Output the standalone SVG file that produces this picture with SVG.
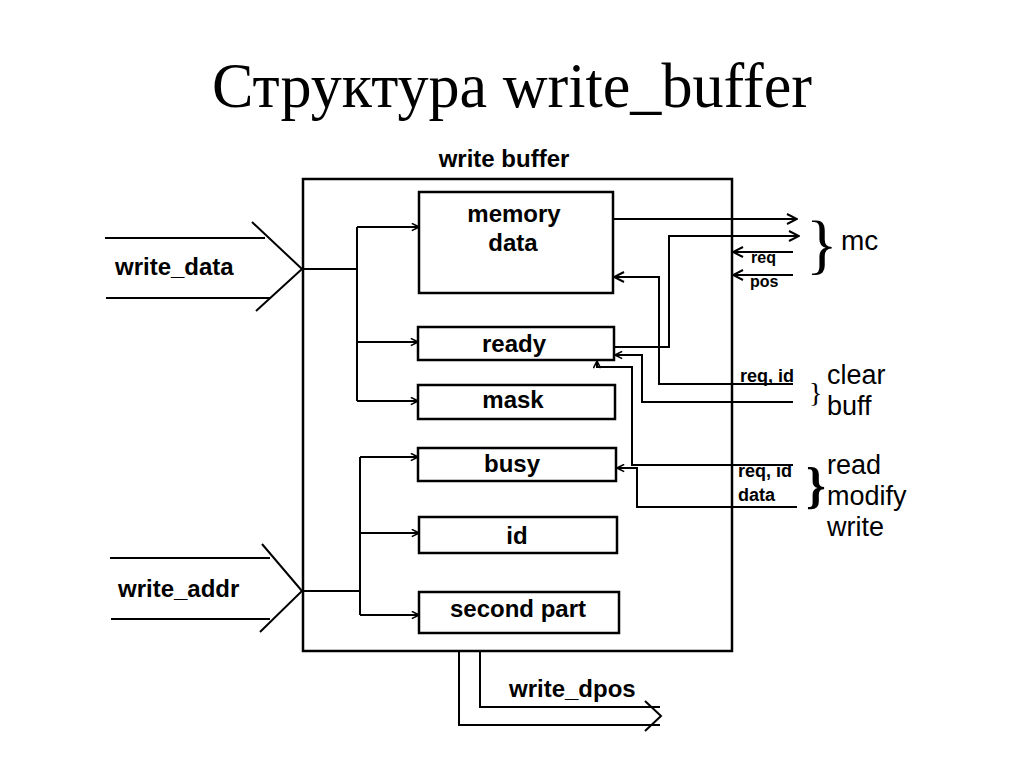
<svg xmlns="http://www.w3.org/2000/svg" width="1024" height="768" viewBox="0 0 1024 768">
<defs>
<marker id="ah" viewBox="0 0 12 12" refX="11" refY="6" markerWidth="12" markerHeight="12" markerUnits="userSpaceOnUse" orient="auto">
<path d="M1,1 L11,6 L1,11" fill="none" stroke="#000" stroke-width="2"/>
</marker>
<marker id="ahs" viewBox="0 0 10 10" refX="9" refY="5" markerWidth="9" markerHeight="9" markerUnits="userSpaceOnUse" orient="auto">
<path d="M1,1 L9,5 L1,9" fill="none" stroke="#000" stroke-width="1.8"/>
</marker>
</defs>
<style>
.box{fill:#fff;stroke:#000;stroke-width:2.5}
.ln{fill:none;stroke:#000;stroke-width:2}
.lb{font-family:"Liberation Sans",Arial,sans-serif;font-weight:bold;font-size:24px;fill:#000}
.sm{font-family:"Liberation Sans",Arial,sans-serif;font-weight:bold;font-size:18px;fill:#000}
.xs{font-family:"Liberation Sans",Arial,sans-serif;font-weight:bold;font-size:16px;fill:#000}
.rg{font-family:"Liberation Sans",Arial,sans-serif;font-size:27px;fill:#000}
</style>
<rect width="1024" height="768" fill="#fff"/>
<text x="212" y="107" textLength="600" lengthAdjust="spacingAndGlyphs" font-family="Liberation Serif,'Times New Roman',serif" font-size="64" fill="#000">Структура write_buffer</text>
<text x="504" y="167" text-anchor="middle" class="lb">write buffer</text>

<g id="write_buffer"><rect class="box" x="303" y="179" width="429" height="472"/></g>

<g id="memory_data"><rect class="box" x="419" y="192" width="194" height="101"/>
<text x="514" y="222" text-anchor="middle" class="lb">memory</text>
<text x="513" y="251" text-anchor="middle" class="lb">data</text></g>
<g id="ready"><rect class="box" x="418" y="327" width="196" height="33"/>
<text x="514" y="352" text-anchor="middle" class="lb">ready</text></g>
<g id="mask"><rect class="box" x="418" y="385" width="197" height="34"/>
<text x="513" y="408" text-anchor="middle" class="lb">mask</text></g>
<g id="busy"><rect class="box" x="418" y="448" width="198" height="33"/>
<text x="512" y="472" text-anchor="middle" class="lb">busy</text></g>
<g id="id"><rect class="box" x="419" y="517" width="198" height="36"/>
<text x="517" y="544" text-anchor="middle" class="lb">id</text></g>
<g id="second_part"><rect class="box" x="419" y="592" width="200" height="41"/>
<text x="518" y="617" text-anchor="middle" class="lb">second part</text></g>

<g id="connectors">
<path class="ln" d="M105,238 H265 M252,222 L302,269 L256,311 M106,298 H270 M302,269 H357"/>
<path class="ln" d="M357,227 V401"/>
<path class="ln" marker-end="url(#ahs)" d="M357,227 H419"/>
<path class="ln" marker-end="url(#ahs)" d="M357,342 H418"/>
<path class="ln" marker-end="url(#ahs)" d="M357,401 H418"/>
<path class="ln" d="M110,558 H270 M262,544 L302,591 L260,632 M111,619 H270 M302,591 H360"/>
<path class="ln" d="M360,457 V615"/>
<path class="ln" marker-end="url(#ahs)" d="M360,457 H418"/>
<path class="ln" marker-end="url(#ahs)" d="M360,533 H419"/>
<path class="ln" marker-end="url(#ahs)" d="M360,615 H419"/>
<path class="ln" d="M480,651 V707 H660 M459,651 V725 H660 M645,701 L661,716 L645,731"/>
<path class="ln" marker-end="url(#ah)" d="M613,219 H797"/>
<path class="ln" marker-end="url(#ah)" d="M614,347 H669 V236 H799"/>
<path class="ln" marker-end="url(#ah)" d="M793,252 H733"/>
<path class="ln" marker-end="url(#ah)" d="M793,275 H733"/>
<path class="ln" marker-end="url(#ah)" d="M793,384 H659 V277 H614"/>
<path class="ln" marker-end="url(#ahs)" d="M793,402 H642 V355 H615"/>
<path class="ln" marker-end="url(#ahs)" d="M793,465 H632 V367 H597 V361"/>
<path class="ln" marker-end="url(#ahs)" d="M797,507 H637 V468 H617"/>
</g>

<g id="labels">
<text x="115" y="275" class="lb">write_data</text>
<text x="118" y="597" class="lb">write_addr</text>
<text x="509" y="697" class="lb">write_dpos</text>
<text x="751" y="263" class="xs">req</text>
<text x="750" y="287" class="xs">pos</text>
<text x="806" y="266" font-family="Liberation Serif,serif" font-size="66" fill="#000">}</text>
<text x="841" y="250" class="rg" style="font-size:28px">mc</text>
<text x="740" y="382" class="sm">req, id</text>
<text x="809" y="402" font-family="Liberation Serif,serif" font-size="28" fill="#000">}</text>
<text x="827" y="384" class="rg">clear</text>
<text x="827" y="415" class="rg">buff</text>
<text x="738" y="477" class="sm">req, id</text>
<text x="738" y="501" class="sm">data</text>
<text x="806" y="502" font-family="Liberation Serif,serif" font-size="50" font-weight="bold" fill="#000">}</text>
<text x="827" y="474" class="rg">read</text>
<text x="827" y="505" class="rg">modify</text>
<text x="827" y="536" class="rg">write</text>
</g>
</svg>
